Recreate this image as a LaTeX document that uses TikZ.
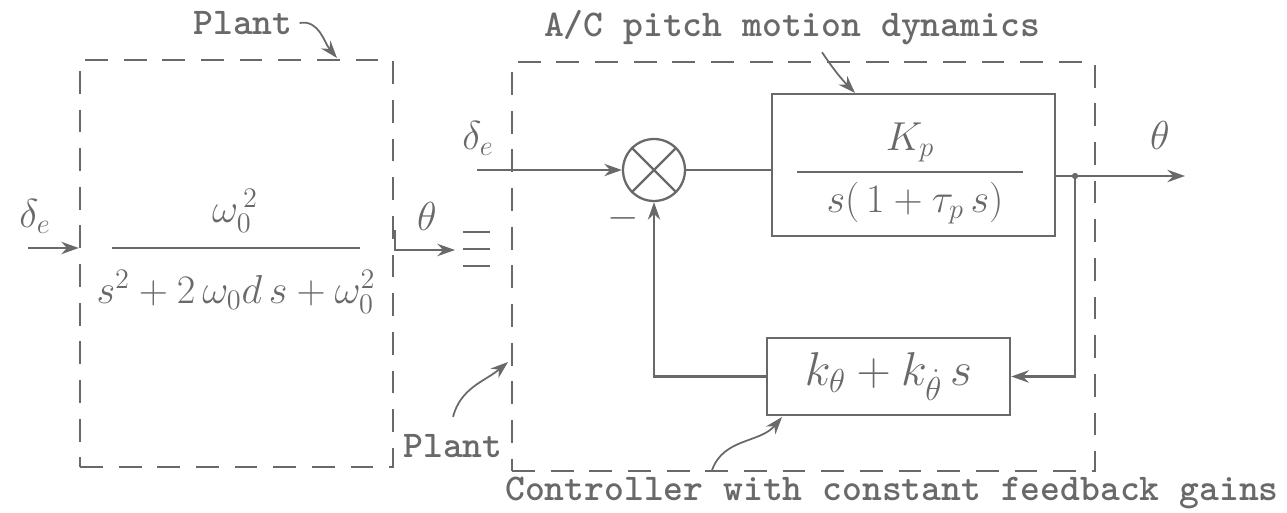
\documentclass[tikz,border=0pt]{standalone}
\usepackage{fix-cm}
\usepackage{amsmath}
\usetikzlibrary{arrows.meta}
\definecolor{ink}{RGB}{105,105,105}
\tikzset{
  dashedbox/.style={draw, line width=1.3pt, dash pattern=on 13pt off 9pt},
  block/.style={draw, line width=1.4pt, inner sep=0pt},
  hand/.style={font=\fontsize{23}{28}\selectfont},
  typed/.style={font=\fontsize{21.5}{26}\selectfont\ttfamily\bfseries},
  note/.style={->, line width=1pt},
}

\begin{document}
\begin{tikzpicture}[x=0.02cm, y=-0.02cm, color=ink, line width=1.3pt,
    >={Stealth[length=10pt,width=7pt]}]
    \useasboundingbox (0,0) rectangle (1287,513);

    % plant alone
    \node[dashedbox, minimum width=6.26cm, minimum height=8.14cm] (plant) at (236.5,263.5) {};
    \node[hand] (wnum) at (235,211) {$\omega_0^{\,2}$};
    \node[hand] (wden) at (236,292) {$s^2 + 2\,\omega_0 d\, s + \omega_0^2$};
    \draw (112,248) -- (360,248);

    \coordinate (in1) at (28,248);
    \draw[->] (in1) -- (in1 -| plant.west);
    \node[hand] (de1) at (35,216) {$\delta_e$};

    \coordinate (pout) at (395,230);
    \coordinate (out1) at (455,250);
    \draw[->] (pout) |- (out1);
    \node[hand] (th1) at (427,216) {$\theta$};

    \foreach \y in {232,249,266}
      \draw (463,\y) -- (490,\y);

    % closed loop
    \node[dashedbox, minimum width=11.66cm, minimum height=8.18cm] (ctrl) at (803.5,266.5) {};
    \node[circle, draw, minimum size=1.24cm, inner sep=0pt] (sum) at (654,170) {};
    \draw (sum.45) -- (sum.225) (sum.135) -- (sum.315);

    \node[block, minimum width=5.66cm, minimum height=2.84cm] (fwd) at (913.5,165) {};
    \node[hand] (kp) at (910,142) {$K_p$};
    \node[hand] (kpden) at (915,203) {$s(\,1 + \tau_p\, s)$};
    \draw (797,172) -- (1023,172);

    \node[block, font=\fontsize{27}{32}\selectfont, minimum width=4.86cm, minimum height=1.54cm]
      (fb) at (888.5,376.5) {$k_\theta + k_{\dot\theta}\, s$};

    \coordinate (in2) at (477,170);
    \draw[->] (in2) -- (sum.west);
    \node[hand] (de2) at (478,138) {$\delta_e$};
    \draw (sum.east) -- (sum.east -| fwd.west);

    \coordinate (jn) at (1075,176);
    \coordinate (out2) at (1185,176);
    \draw (jn -| fwd.east) -- (jn);
    \draw[->] (jn) -- (out2);
    \fill (jn) circle (1.8pt);
    \node[hand] (th2) at (1160,135) {$\theta$};

    \draw[->] (jn) |- (fb.east);
    \draw[->] (fb.west) -| (sum.south);
    \node[hand] (minus) at (623,218) {$-$};

    % notes
    \node[typed] (plantlbl) at (243,23) {Plant};
    \coordinate (plantpt) at (337,58);
    \draw[note] (plantlbl.east) to[out=10, in=130] (plantpt);

    \node[typed] (aclbl) at (792,28) {A/C pitch motion dynamics};
    \coordinate (acpt) at (855,93);
    \draw[note] ([xshift=0.6cm]aclbl.south) to[bend right=5] (acpt);

    \node[typed] (plantlbl2) at (453,446) {Plant};
    \coordinate (ctrlpt) at (508,362);
    \draw[note] ([yshift=6pt]plantlbl2.north) to[out=75, in=220] (ctrlpt);

    \node[typed] (ctrllbl) at (892,493) {Controller with constant feedback gains};
    \coordinate (fbpt) at (782,417);
    \draw[note] ([xshift=-3.6cm]ctrllbl.north) to[out=70, in=230] (fbpt);
\end{tikzpicture}
\end{document}
